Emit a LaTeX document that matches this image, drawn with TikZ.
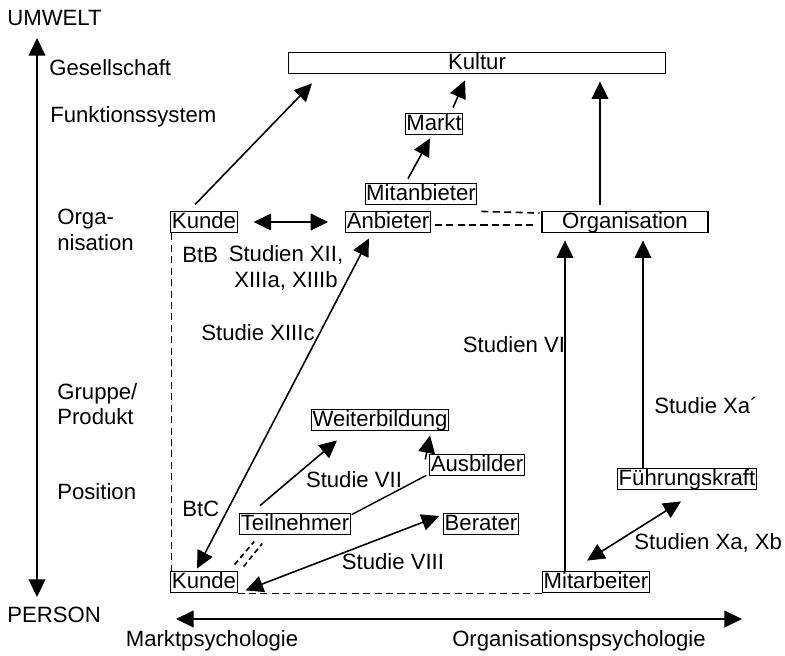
\documentclass[tikz,border=0pt]{standalone}
\usepackage{fontspec}
\setmainfont{Liberation Sans}
\usetikzlibrary{arrows.meta,positioning,calc}
\tikzset{
  box/.style={draw,line width=0.6pt,inner xsep=0.6pt,inner ysep=0.5pt,
    text height=0.92em,text depth=0.22em},
  lbl/.style={anchor=west,inner sep=0pt,align=left},
  pfeil/.style={line width=0.9pt,-{Triangle[length=10pt,width=9.5pt]}},
  dpfeil/.style={line width=0.9pt,
    {Triangle[length=10pt,width=9.5pt]}-{Triangle[length=10pt,width=9.5pt]}},
  gestrichelt/.style={line width=0.9pt,dash pattern=on 4pt off 2.5pt},
}
\begin{document}
\begin{tikzpicture}[x=0.02cm,y=-0.02cm,font=\fontsize{12.6}{14.5}\selectfont]
\useasboundingbox (0,0) rectangle (785,656);
% Achsen
\node[lbl] (umwelt) at (7,18) {UMWELT};
\node[lbl] (person) at (7,615) {PERSON};
\coordinate (oben) at (37,38);
\coordinate (unten) at (37,597);
\draw[dpfeil] (unten) -- (oben);
\coordinate (links) at (176,619);
\coordinate (rechts) at (742,619);
\draw[dpfeil] (links) -- (rechts);
\node (marktpsy) at (212,641) {Marktpsychologie};
\node (orgpsy) at (579,641) {Organisationspsychologie};
% Ebenen
\node[lbl] (gesellschaft) at (49,68) {Gesellschaft};
\node[lbl] (funktion) at (50,117) {Funktionssystem};
\node[lbl] (orga) at (57,230) {Orga-\\nisation};
\node[lbl] (gruppe) at (57,404) {Gruppe/\\Produkt};
\node[lbl] (position) at (57,492) {Position};
% Kaesten
\node[box,minimum width=7.54cm] (kultur) at (477,63) {Kultur};
\node[box] (markt) at (434,124) {Markt};
\node[box] (mitanbieter) at (421,194) {Mitanbieter};
\node[box] (kunde oben) at (204,222) {Kunde};
\node[box] (anbieter) at (388,222) {Anbieter};
\node[box,minimum width=3.32cm] (organisation) at (625,222) {Organisation};
\node[box] (weiterbildung) at (380,420) {Weiterbildung};
\node[box] (ausbilder) at (477,465) {Ausbilder};
\node[box] (teilnehmer) at (295,524) {Teilnehmer};
\node[box] (berater) at (481,524) {Berater};
\node[box] (fuehrung) at (687,479) {Führungskraft};
\node[box] (kunde unten) at (204,582) {Kunde};
\node[box] (mitarbeiter) at (596,582) {Mitarbeiter};
% Beschriftungen
\node[lbl] (btb) at (182,255) {BtB};
\node[align=center] (xii) at (286,268) {Studien XII,\\XIIIa, XIIIb};
\node (xiiic) at (258,333) {Studie XIIIc};
\node[lbl] (btc) at (182,509) {BtC};
\node (vii) at (354,480) {Studie VII};
\node (viii) at (393,562) {Studie VIII};
\node (vi) at (514,345) {Studien VI};
\node (xastrich) at (706,405) {Studie Xa´};
\node[lbl] (xaxb) at (634,543) {Studien Xa, Xb};
% Verbindungen oben
\draw[pfeil] ($(kunde oben.north)+(-9,-6)$) -- ($(kultur.south west)+(24,9)$);
\draw[pfeil] ($(markt.north)+(19,-5)$) -- ($(kultur.south)+(-12,6)$);
\draw[pfeil] ($(mitanbieter.north)+(-13,-4)$) -- ($(markt.south)+(-4,3)$);
\draw[pfeil] ($(organisation.north)+(-25,-6)$) -- ($(kultur.south)+(123,7)$);
\draw[dpfeil] ($(kunde oben.east)+(16,0)$) -- ($(anbieter.west)+(-17,0)$);
\draw[gestrichelt] ($(mitanbieter.south east)+(4,6)$) -- ($(organisation.west)+(-2,-9)$);
\draw[gestrichelt] ($(anbieter.east)+(4,3)$) -- ($(organisation.west)+(-7,3)$);
% Rahmen gestrichelt
\draw[gestrichelt] ($(kunde oben.south west)+(1,0)$) -- ($(kunde unten.north west)+(1,0)$);
\draw[gestrichelt] (kunde unten.south east) -- (mitarbeiter.south west);
% Verbindungen unten
\draw[dpfeil] ($(kunde unten.north)+(-7,-2)$) -- ($(anbieter.south)+(-19,5)$);
\draw[pfeil] ($(teilnehmer.north)+(-35,-7)$) -- ($(weiterbildung.south)+(-43,9)$);
\draw[pfeil] ($(ausbilder.north west)+(-4,6)$) -- ($(weiterbildung.south east)+(-19,4)$);
\draw[line width=0.8pt] ($(teilnehmer.north east)+(1,2)$) -- ($(ausbilder.south west)+(-3,-1)$);
\draw[dpfeil] ($(kunde unten.south east)+(8,-3)$) -- ($(berater.west)+(-4,-8)$);
\draw[gestrichelt,dash pattern=on 3pt off 2pt] ($(kunde unten.north east)+(-3,-6)$) -- ($(teilnehmer.south west)+(15,6)$);
\draw[gestrichelt,dash pattern=on 3pt off 2pt] ($(kunde unten.north east)+(6,-4)$) -- ($(teilnehmer.south west)+(23,8)$);
% Organisationsseite
\draw[pfeil] ($(mitarbeiter.north)+(-31,0)$) -- ($(organisation.south)+(-60,7)$);
\draw[pfeil] ($(fuehrung.north)+(-44,0)$) -- ($(organisation.south)+(18,7)$);
\draw[dpfeil] ($(mitarbeiter.north)+(-9,-10)$) -- ($(fuehrung.south)+(-6,11)$);
\end{tikzpicture}
\end{document}
